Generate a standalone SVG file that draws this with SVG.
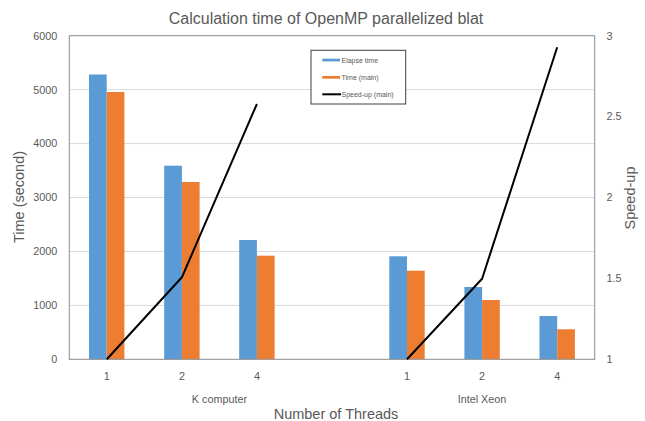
<svg xmlns="http://www.w3.org/2000/svg" width="645" height="421" viewBox="0 0 645 421">
<style>
text{font-family:"Liberation Sans",Arial,sans-serif;fill:#595959}
.tick{font-size:10.8px}
.axt{font-size:14.5px}
.lg{font-size:7px}
.grid{stroke:#D9D9D9;stroke-width:1}
.blue{fill:#5B9BD5}
.orange{fill:#ED7D31}
.sp{fill:none;stroke:#000;stroke-width:2;stroke-linejoin:round}
</style>
<rect width="645" height="421" fill="#fff"/>
<text id="title" x="326" y="24" font-size="16" text-anchor="middle">Calculation time of OpenMP parallelized blat</text>
<g id="gridlines">
<line class="grid" x1="69.3" y1="89.7" x2="594.7" y2="89.7"/>
<line class="grid" x1="69.3" y1="143.6" x2="594.7" y2="143.6"/>
<line class="grid" x1="69.3" y1="197.5" x2="594.7" y2="197.5"/>
<line class="grid" x1="69.3" y1="251.4" x2="594.7" y2="251.4"/>
<line class="grid" x1="69.3" y1="305.4" x2="594.7" y2="305.4"/>
</g>
<g id="series-elapse">
<rect class="blue" x="89" y="74.5" width="17.7" height="284.8"/>
<rect class="blue" x="164.2" y="165.7" width="17.7" height="193.6"/>
<rect class="blue" x="239.2" y="240" width="17.7" height="119.3"/>
<rect class="blue" x="389.3" y="256.3" width="17.7" height="103"/>
<rect class="blue" x="464.4" y="287" width="17.7" height="72.3"/>
<rect class="blue" x="539.5" y="316" width="17.7" height="43.3"/>
</g>
<g id="series-main">
<rect class="orange" x="106.7" y="92" width="17.7" height="267.3"/>
<rect class="orange" x="181.9" y="182" width="17.7" height="177.3"/>
<rect class="orange" x="256.9" y="255.7" width="17.7" height="103.6"/>
<rect class="orange" x="407" y="270.7" width="17.7" height="88.6"/>
<rect class="orange" x="482.1" y="300" width="17.7" height="59.3"/>
<rect class="orange" x="557.2" y="329.3" width="17.7" height="30"/>
</g>
<g id="plot-frame">
<rect x="69.3" y="35.7" width="525.4" height="323.6" fill="none" stroke="#8C8C8C" stroke-width="1"/>
</g>
<g id="connectors">
<polyline class="sp" points="106.8,359.3 181.9,277.3 256.9,104"/>
<polyline class="sp" points="407,359.3 482.1,278.7 557.2,47.3"/>
</g>
<g id="legend">
<rect x="311" y="50.3" width="94.7" height="53.7" fill="#fff" stroke="#404040" stroke-width="1"/>
<rect class="blue" x="322.3" y="58.7" width="17.7" height="2.7"/>
<text class="lg" x="341.5" y="62.5">Elapse time</text>
<rect class="orange" x="322.3" y="76" width="17.7" height="2.7"/>
<text class="lg" x="341.5" y="79.8">Time (main)</text>
<line x1="322.3" y1="94.3" x2="341" y2="94.3" stroke="#000" stroke-width="2"/>
<text class="lg" x="341.5" y="96.8">Speed-up (main)</text>
</g>
<g id="left-axis" class="tick" text-anchor="end">
<text x="57.3" y="39.5">6000</text>
<text x="57.3" y="93.5">5000</text>
<text x="57.3" y="147.4">4000</text>
<text x="57.3" y="201.3">3000</text>
<text x="57.3" y="255.2">2000</text>
<text x="57.3" y="309.2">1000</text>
<text x="57.3" y="363.1">0</text>
</g>
<g id="right-axis" class="tick">
<text x="606.5" y="39.5">3</text>
<text x="606.5" y="120.4">2.5</text>
<text x="606.5" y="201.3">2</text>
<text x="606.5" y="282.2">1.5</text>
<text x="606.5" y="363.1">1</text>
</g>
<g id="category-axis" class="tick" text-anchor="middle">
<text x="106.8" y="380">1</text>
<text x="181.9" y="380">2</text>
<text x="256.9" y="380">4</text>
<text x="407" y="380">1</text>
<text x="482.1" y="380">2</text>
<text x="557.2" y="380">4</text>
<text x="219.4" y="403">K computer</text>
<text x="482" y="403">Intel Xeon</text>
</g>
<text id="x-title" class="axt" x="336" y="419" text-anchor="middle">Number of Threads</text>
<text id="y-title" class="axt" transform="translate(23.5,197) rotate(-90)" text-anchor="middle">Time (second)</text>
<text id="y2-title" class="axt" transform="translate(635,198) rotate(-90)" text-anchor="middle">Speed-up</text>
</svg>
